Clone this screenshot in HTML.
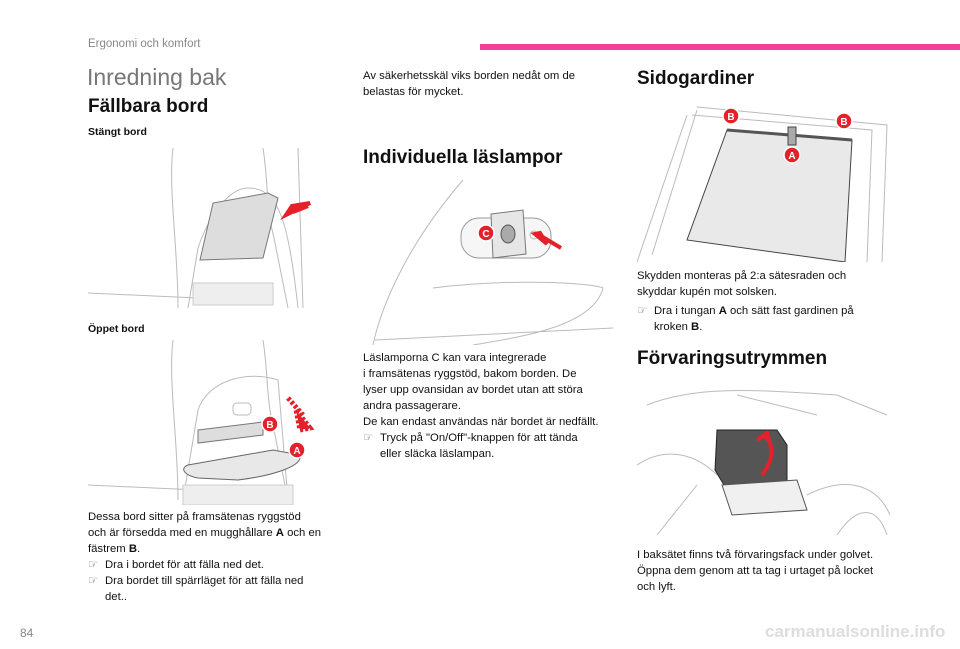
<!DOCTYPE html>
<html><head><meta charset="utf-8"><style>
body{margin:0;width:960px;height:649px;background:#fff;position:relative;overflow:hidden;font-family:"Liberation Sans",sans-serif;color:#111}
.a{position:absolute;white-space:nowrap}
.t{font-size:11.3px;line-height:16px}
h2{margin:0;font-size:19px;font-weight:bold;position:absolute;white-space:nowrap}
.s{font-size:10.5px;font-weight:bold}
.b{position:relative;padding-left:17px}
.b i{position:absolute;left:0;top:0;font-style:normal;color:#666}
.r{fill:#e4202a;stroke:#fff;stroke-width:1.5}
.l{stroke:#bbb;fill:none;stroke-width:1}
</style></head><body>
<div class="a" style="left:88px;top:38px;font-size:11.5px;color:#888">Ergonomi och komfort</div>
<div class="a" style="left:480px;top:44px;width:480px;height:6px;background:#ef3f97"></div>
<div class="a" style="left:87px;top:64px;font-size:23px;color:#777">Inredning bak</div>
<h2 style="left:88px;top:96px">Fällbara bord</h2>
<div class="a s" style="left:88px;top:126px">Stängt bord</div>
<svg class="a" style="left:88px;top:148px" width="232" height="162">
<path class="l" d="M85 0 C80 40 90 100 90 160 M175 0 C180 30 178 60 186 90 L200 160 M0 145 L110 150 M100 160 L110 100 C120 70 140 40 160 40 C190 40 200 70 210 160 M210 0 L215 160"/>
<path d="M112 112 L125 55 L180 45 L190 50 L175 110 Z" fill="#ddd" stroke="#777"/>
<rect x="105" y="135" width="80" height="22" fill="#eee" stroke="#ccc"/>
<path d="M222 55 L198 67 L204 58 Z M220 58 L205 64" fill="#e4202a" stroke="#e4202a" stroke-width="4"/>
</svg>
<div class="a s" style="left:88px;top:323px">Öppet bord</div>
<svg class="a" style="left:88px;top:340px" width="232" height="165">
<path class="l" d="M85 0 C80 40 90 100 90 160 M175 0 C180 30 178 60 186 90 L200 160 M0 145 L110 150 M95 160 L110 70 C120 40 160 30 190 40 L200 160"/>
<path d="M110 90 L175 82 L175 95 L110 103 Z" fill="#ddd" stroke="#777"/>
<path d="M100 125 L185 110 L212 115 C215 125 190 135 150 140 L110 138 C95 135 92 128 100 125Z" fill="#e8e8e8" stroke="#666"/>
<rect x="145" y="63" width="18" height="12" rx="4" class="l"/>
<rect x="95" y="145" width="110" height="20" fill="#eee" stroke="#ccc"/>
<circle cx="182" cy="84" r="8" class="r"/><text x="182" y="88" font-size="10" fill="#fff" text-anchor="middle" font-weight="bold">B</text>
<circle cx="209" cy="110" r="8" class="r"/><text x="209" y="114" font-size="10" fill="#fff" text-anchor="middle" font-weight="bold">A</text>
<path d="M200 58 L215 75 M208 70 L222 88 L212 90 Z" stroke="#e4202a" stroke-width="5" stroke-dasharray="3 2" fill="#e4202a"/>
</svg>
<div class="a t" style="left:88px;top:509px">Dessa bord sitter på framsätenas ryggstöd<br>och är försedda med en mugghållare <b>A</b> och en<br>fästrem <b>B</b>.
<div class="b"><i>&#9758;</i>Dra i bordet för att fälla ned det.</div>
<div class="b"><i>&#9758;</i>Dra bordet till spärrläget för att fälla ned<br>det..</div></div>
<div class="a t" style="left:363px;top:68px">Av säkerhetsskäl viks borden nedåt om de<br>belastas för mycket.</div>
<h2 style="left:363px;top:147px">Individuella läslampor</h2>
<svg class="a" style="left:363px;top:178px" width="252" height="167">
<path class="l" d="M100 2 C50 60 20 120 10 167 M70 110 C150 100 230 105 240 110 C230 150 150 160 110 167 M12 162 L250 150"/>
<rect x="98" y="40" width="90" height="40" rx="18" fill="#f6f6f6" stroke="#999"/>
<path d="M128 36 L160 32 L163 76 L130 80 Z" fill="#e6e6e6" stroke="#777"/>
<ellipse cx="145" cy="56" rx="7" ry="9" fill="#aaa" stroke="#555"/>
<circle cx="171" cy="57" r="4" class="l"/>
<circle cx="123" cy="55" r="8" class="r"/><text x="123" y="59" font-size="10" fill="#fff" text-anchor="middle" font-weight="bold">C</text>
<path d="M198 70 L178 58 M177 55 L172 56 L184 66 Z" stroke="#e4202a" stroke-width="4" fill="#e4202a"/>
</svg>
<div class="a t" style="left:363px;top:350px">Läslamporna C kan vara integrerade<br>i framsätenas ryggstöd, bakom borden. De<br>lyser upp ovansidan av bordet utan att störa<br>andra passagerare.<br>De kan endast användas när bordet är nedfällt.
<div class="b"><i>&#9758;</i>Tryck på "On/Off"-knappen för att tända<br>eller släcka läslampan.</div></div>
<h2 style="left:637px;top:68px">Sidogardiner</h2>
<svg class="a" style="left:637px;top:105px" width="253" height="157">
<path class="l" d="M60 2 L250 20 L245 157 M55 10 L235 25 L230 157 M15 150 L60 5 M0 157 L50 10"/>
<path d="M90 25 L215 35 L208 157 L50 135 Z" fill="#e9e9e9" stroke="#444"/>
<path d="M90 25 L215 35" stroke="#555" stroke-width="3"/>
<rect x="151" y="22" width="8" height="18" fill="#aaa" stroke="#444"/>
<circle cx="94" cy="11" r="8" class="r"/><text x="94" y="15" font-size="10" fill="#fff" text-anchor="middle" font-weight="bold">B</text>
<circle cx="207" cy="16" r="8" class="r"/><text x="207" y="20" font-size="10" fill="#fff" text-anchor="middle" font-weight="bold">B</text>
<circle cx="155" cy="50" r="8" class="r"/><text x="155" y="54" font-size="10" fill="#fff" text-anchor="middle" font-weight="bold">A</text>
</svg>
<div class="a t" style="left:637px;top:268px">Skydden monteras på 2:a sätesraden och<br>skyddar kupén mot solsken.
<div class="b" style="margin-top:3px"><i>&#9758;</i>Dra i tungan <b>A</b> och sätt fast gardinen på<br>kroken <b>B</b>.</div></div>
<h2 style="left:637px;top:348px">Förvaringsutrymmen</h2>
<svg class="a" style="left:637px;top:385px" width="253" height="155">
<path class="l" d="M10 20 C60 0 120 5 200 10 L250 30 M0 80 C30 60 60 70 80 90 M170 110 C210 90 240 100 253 130 M20 150 L60 100 M200 150 C220 120 240 120 250 150 M100 10 L180 30"/>
<path d="M80 45 L140 45 L150 60 L150 100 L90 105 L78 85 Z" fill="#555" stroke="#222"/>
<path d="M85 100 L160 95 L170 125 L95 130 Z" fill="#f0f0f0" stroke="#555"/>
<path d="M125 90 C140 70 135 55 125 50 M120 55 L130 48 L133 58" stroke="#e4202a" stroke-width="4" fill="none"/>
</svg>
<div class="a t" style="left:637px;top:547px">I baksätet finns två förvaringsfack under golvet.<br>Öppna dem genom att ta tag i urtaget på locket<br>och lyft.</div>
<div class="a" style="left:20px;top:626px;font-size:12px;color:#888">84</div>
<div class="a" style="left:765px;top:622px;font-size:17px;color:#ddd;font-weight:bold">carmanualsonline.info</div>
</body></html>
